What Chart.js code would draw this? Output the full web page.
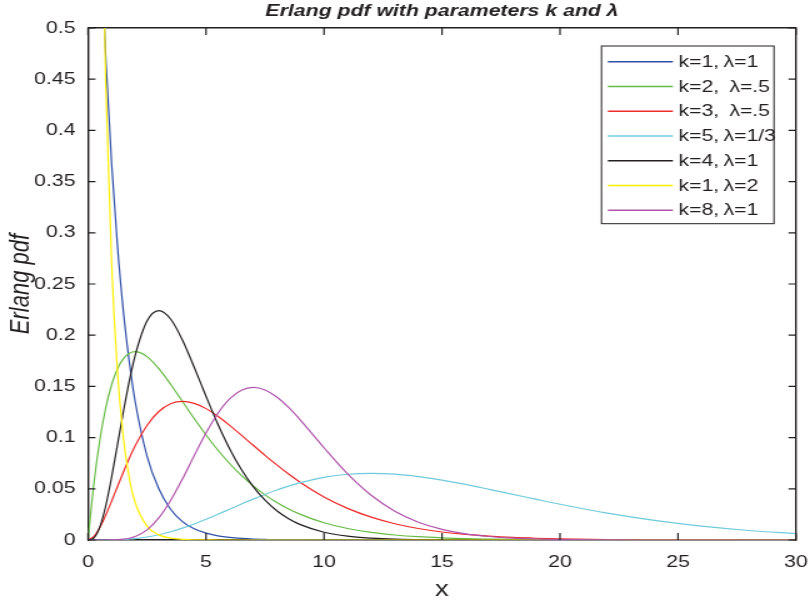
<!DOCTYPE html>
<html>
<head>
<meta charset="utf-8">
<title>Erlang pdf</title>
<script src="https://cdn.jsdelivr.net/npm/chart.js@4"></script>
<style>
  html, body { margin: 0; padding: 0; background: #fff; overflow: hidden; }
  /* figure is drawn narrow and widened, like the exported bitmap */
  #wrap { width: 648px; height: 603px; transform: scaleX(1.25); transform-origin: 0 0; }
</style>
</head>
<body>
<div id="wrap"><canvas id="erlang" width="648" height="603"></canvas></div>
<script>
// sample points along x
const xValues = [0, 0.25, 0.5, 0.75, 1, 1.25, 1.5, 1.75, 2, 2.5, 3, 3.5, 4, 4.5, 5, 5.5, 6, 6.5, 7, 7.5, 8, 8.5, 9,
  10, 11, 12, 13, 14, 15, 16, 17, 18, 19, 20, 22, 24, 26, 28, 30];

// pdf values per curve, one per x sample
const k1l1 = [1, 0.779, 0.607, 0.472, 0.368, 0.287, 0.223, 0.174, 0.135, 0.082, 0.050, 0.030, 0.018, 0.011, 0.0067, 0.0041, 0.0025, 0.0015, 0.0009, 0.0006, 0.0003, 0.0002, 0.0001,
  0, 0, 0, 0, 0, 0, 0, 0, 0, 0, 0, 0, 0, 0, 0, 0];
const k2l05 = [0, 0.0552, 0.0974, 0.1289, 0.1516, 0.1673, 0.1771, 0.1824, 0.1839, 0.1791, 0.1673, 0.1521, 0.1353, 0.1186, 0.1026, 0.0879, 0.0747, 0.0630, 0.0528, 0.0441, 0.0366, 0.0303, 0.0250,
  0.0168, 0.0112, 0.0074, 0.0049, 0.0032, 0.0021, 0.0013, 0.0009, 0.0006, 0.0004, 0.0002, 0.0001, 0, 0, 0, 0];
const k3l05 = [0, 0.0035, 0.0122, 0.0242, 0.0379, 0.0523, 0.0664, 0.0798, 0.0920, 0.1119, 0.1255, 0.1331, 0.1353, 0.1334, 0.1283, 0.1208, 0.1120, 0.1024, 0.0925, 0.0827, 0.0733, 0.0644, 0.0562,
  0.0421, 0.0309, 0.0223, 0.0159, 0.0112, 0.0078, 0.0054, 0.0037, 0.0025, 0.0017, 0.0011, 0.0005, 0.0002, 0.0001, 0, 0];
const k5l13 = [0, 0, 0, 0, 0.0001, 0.0003, 0.0005, 0.0009, 0.0014, 0.0029, 0.0051, 0.0080, 0.0116, 0.0157, 0.0202, 0.0251, 0.0301, 0.0351, 0.0399, 0.0445, 0.0488, 0.0526, 0.0560,
  0.0612, 0.0642, 0.0651, 0.0643, 0.0619, 0.0585, 0.0543, 0.0495, 0.0446, 0.0397, 0.0349, 0.0262, 0.0191, 0.0135, 0.0093, 0.0063];
const k4l1 = [0, 0.0020, 0.0126, 0.0332, 0.0613, 0.0933, 0.1255, 0.1552, 0.1804, 0.2138, 0.2240, 0.2158, 0.1954, 0.1687, 0.1404, 0.1133, 0.0892, 0.0688, 0.0521, 0.0389, 0.0286, 0.0208, 0.0150,
  0.0076, 0.0037, 0.0018, 0.0008, 0.0004, 0.0002, 0.0001, 0, 0, 0, 0, 0, 0, 0, 0, 0];
const k1l2 = [2, 1.213, 0.736, 0.446, 0.271, 0.164, 0.0996, 0.0604, 0.0366, 0.0135, 0.0050, 0.0018, 0.0007, 0.0002, 0.0001, 0, 0, 0, 0, 0, 0, 0, 0,
  0, 0, 0, 0, 0, 0, 0, 0, 0, 0, 0, 0, 0, 0, 0, 0];
const k8l1 = [0, 0, 0, 0, 0.0001, 0.0003, 0.0008, 0.0017, 0.0034, 0.0099, 0.0216, 0.0386, 0.0595, 0.0824, 0.1044, 0.1235, 0.1377, 0.1462, 0.1490, 0.1465, 0.1396, 0.1294, 0.1171,
  0.0901, 0.0646, 0.0437, 0.0281, 0.0174, 0.0104, 0.0060, 0.0034, 0.0018, 0.0010, 0.0005, 0.0001, 0, 0, 0, 0];

const seriesLabels = ['k=1,\u2009\u03bb=1', 'k=2, \u2009\u03bb=.5', 'k=3, \u2009\u03bb=.5', 'k=5,\u2009\u03bb=1/3',
  'k=4,\u2009\u03bb=1', 'k=1,\u2009\u03bb=2', 'k=8,\u2009\u03bb=1'];
const seriesValues = [k1l1, k2l05, k3l05, k5l13, k4l1, k1l2, k8l1];
const seriesColors = ['#2f4fa8', '#66bb44', '#ee2b2b', '#6fcbdc', '#231f20', '#ffee00', '#b154ac'];

const xTicks = { min: 0, max: 30, step: 5 };
const yTicks = { min: 0, max: 0.5, step: 0.05 };

const FONT = '"Liberation Sans", Arial, Helvetica, sans-serif';
const INK = '#231f20';
Chart.defaults.font.family = FONT;
Chart.defaults.color = INK;

// inward tick marks on all four sides, then the boxed legend top right
const axesDecor = {
  id: 'axesDecor',
  afterDraw(chart) {
    const { ctx, chartArea: a } = chart;
    try {
      const xs = chart.scales.x, ys = chart.scales.y;
      ctx.save();
      ctx.strokeStyle = INK;
      ctx.lineWidth = 1.2;
      ctx.beginPath();
      xs.ticks.forEach(t => {
        const px = xs.getPixelForValue(t.value);
        ctx.moveTo(px, a.bottom); ctx.lineTo(px, a.bottom - 7);
        ctx.moveTo(px, a.top); ctx.lineTo(px, a.top + 7);
      });
      ys.ticks.forEach(t => {
        const py = ys.getPixelForValue(t.value);
        ctx.moveTo(a.left, py); ctx.lineTo(a.left + 6, py);
        ctx.moveTo(a.right, py); ctx.lineTo(a.right - 6, py);
      });
      ctx.stroke();
      ctx.restore();
    } catch (e) {
      ctx.restore();
    }

    const sets = chart.data.datasets;
    const rowH = 24.75;
    const w = 138;
    const right = a.right - 17.6;
    const left = right - w;
    const top = a.top + 18;
    const h = 15.7 + rowH * (sets.length - 1) + 13.5;
    ctx.save();
    ctx.fillStyle = '#fff';
    ctx.fillRect(left, top, w, h);
    ctx.strokeStyle = INK;
    ctx.lineWidth = 1;
    ctx.strokeRect(left, top, w, h);
    ctx.font = '17px ' + FONT;
    ctx.textBaseline = 'middle';
    ctx.textAlign = 'left';
    sets.forEach((ds, i) => {
      const y = top + 15.7 + i * rowH;
      ctx.strokeStyle = ds.borderColor;
      ctx.lineWidth = 1.6;
      ctx.beginPath();
      ctx.moveTo(left + 5.1, y);
      ctx.lineTo(left + 57.1, y);
      ctx.stroke();
      ctx.fillStyle = INK;
      ctx.fillText(ds.label, left + 61.5, y + 0.5);
    });
    ctx.restore();
  }
};

const datasets = seriesValues.map((vals, i) => ({
  label: seriesLabels[i],
  data: xValues.map((x, j) => ({ x, y: vals[j] })),
  borderColor: seriesColors[i],
  borderWidth: 1.2,
  pointRadius: 0,
  fill: false,
  cubicInterpolationMode: 'monotone',
  order: seriesValues.length - i   // later curves on top
}));

const axisLine = { display: true, color: INK, width: 1.4 };
const noGrid = { display: false, drawTicks: false };

new Chart(document.getElementById('erlang'), {
  type: 'line',
  data: { datasets },
  options: {
    responsive: false,
    animation: false,
    events: [],
    layout: { padding: { left: 0, right: 11.2, top: 0, bottom: 0 } },
    plugins: {
      legend: { display: false },
      tooltip: { enabled: false },
      title: {
        display: true,
        fullSize: false,
        text: 'Erlang pdf with parameters k and \u03bb',
        color: INK,
        font: { size: 17, weight: 'bold', style: 'italic' },
        padding: { top: 1, bottom: 6.6 }
      }
    },
    scales: {
      x: {
        type: 'linear',
        min: xTicks.min,
        max: xTicks.max,
        grid: noGrid,
        border: axisLine,
        ticks: { stepSize: xTicks.step, padding: 12, font: { size: 17 }, color: INK, maxRotation: 0 },
        title: { display: true, text: 'x', font: { size: 22 }, color: INK, padding: { top: 0, bottom: 0 } },
        // fixed axis band; no extra room reserved for the end labels
        afterFit: s => { s.height = 63; s.paddingLeft = 0; s.paddingRight = 0; }
      },
      y: {
        type: 'linear',
        min: yTicks.min,
        max: yTicks.max,
        grid: noGrid,
        border: axisLine,
        ticks: {
          stepSize: yTicks.step,
          padding: 10,
          font: { size: 17 },
          color: INK,
          callback: v => String(Number(v.toFixed(2)))
        },
        title: { display: true, text: 'Erlang pdf', font: { size: 22, style: 'italic' }, color: INK, padding: { top: 4, bottom: 0 } },
        afterFit: s => { s.width = 70.4; }
      },
      // unlabelled top and right axes close the box
      xTop: {
        type: 'linear',
        position: 'top',
        min: xTicks.min,
        max: xTicks.max,
        grid: noGrid,
        border: axisLine,
        ticks: { display: false },
        afterFit: s => { s.height = 0; s.paddingLeft = 0; s.paddingRight = 0; }
      },
      yRight: {
        type: 'linear',
        position: 'right',
        min: yTicks.min,
        max: yTicks.max,
        grid: noGrid,
        border: axisLine,
        ticks: { display: false },
        afterFit: s => { s.width = 0; s.paddingTop = 0; s.paddingBottom = 0; }
      }
    }
  },
  plugins: [axesDecor]
});
</script>
</body>
</html>
